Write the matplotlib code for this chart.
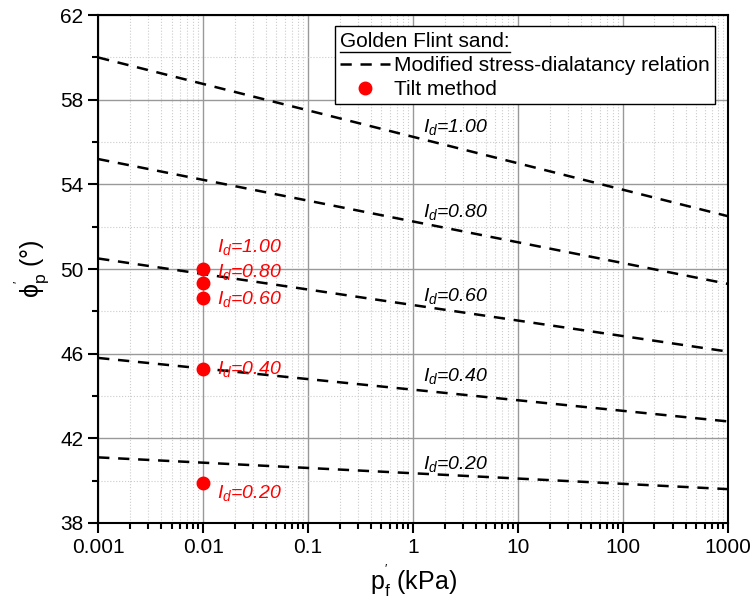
import numpy as np
import matplotlib.pyplot as plt
from matplotlib.lines import Line2D

plt.rcParams['font.family'] = ['Liberation Sans', 'DejaVu Sans']
plt.rcParams['mathtext.fontset'] = 'custom'
plt.rcParams['mathtext.rm'] = 'Liberation Sans'
plt.rcParams['mathtext.it'] = 'Liberation Sans:italic'

# relative density levels
id_labels = ["1.00", "0.80", "0.60", "0.40", "0.20"]

# modified stress-dilatancy relation, end points (p'f = 0.001 and 1000 kPa)
p_line = [0.001, 1000]
phi_line = [[60.0, 52.5],
            [55.2, 49.3],
            [50.5, 46.1],
            [45.8, 42.8],
            [41.1, 39.6]]

# tilt method
p_tilt = [0.01, 0.01, 0.01, 0.01, 0.01]
phi_tilt = [50.0, 49.35, 48.65, 45.3, 39.9]

# label positions
line_lab_x = 1.25
line_lab_y = [56.7, 52.7, 48.75, 44.95, 40.8]
tilt_lab_x = 0.0135
tilt_lab_y = [51.05, 49.85, 48.6, 45.3, 39.4]

fig = plt.figure(figsize=(7.55, 6.06), dpi=100)
ax = fig.add_axes([0.13, 0.137, 0.834, 0.838])

for i, ph in enumerate(phi_line):
    ax.plot(p_line, ph, color='black', ls=(0, (4.5, 3.5)), lw=1.8,
            label='Modified stress-dialatancy relation' if i == 0 else None)
    ax.text(line_lab_x, line_lab_y[i], r"$I_d$=" + id_labels[i],
            fontsize=14, style='italic', va='center', ha='left')

ax.plot(p_tilt, phi_tilt, 'o', color='red', ms=9, label='Tilt method',
        zorder=5, clip_on=False)
for i in range(len(id_labels)):
    ax.text(tilt_lab_x, tilt_lab_y[i], r"$I_d$=" + id_labels[i],
            fontsize=14, style='italic', color='red', va='center', ha='left')

ax.set_xscale('log')
ax.set_xlim(0.001, 1000)
ax.set_ylim(38, 62)
ax.set_yticks(np.arange(38, 63, 4))
ax.set_yticks(np.arange(40, 62, 4), minor=True)
ax.set_xticks([0.001, 0.01, 0.1, 1, 10, 100, 1000])
ax.set_xticklabels(['0.001', '0.01', '0.1', '1', '10', '100', '1000'])

ax.grid(True, which='major', color='#999999', lw=1.0)
ax.grid(True, which='minor', color='#cccccc', lw=0.8, ls=':')
ax.set_axisbelow(True)

for s in ax.spines.values():
    s.set_linewidth(1.5)
ax.tick_params(which='major', direction='out', length=7, width=1.5, labelsize=15)
ax.tick_params(which='minor', direction='out', length=4, width=1.5)

ax.set_xlabel(r"p$^{'}_{\mathrm{f}}$ (kPa)", fontsize=18, labelpad=4)
ax.set_ylabel(r"$\mathrm{\phi}^{'}_{\mathrm{p}}$ (°)", fontsize=18, labelpad=6)

leg = ax.legend(loc='upper right', bbox_to_anchor=(0.99, 0.99), title='Golden Flint sand:',
                fontsize=15, title_fontsize=15, frameon=True, fancybox=False,
                edgecolor='black', framealpha=1, handlelength=2.4,
                handletextpad=0.2, borderpad=0.25, labelspacing=0.25,
                borderaxespad=0.3, alignment='left')
leg.get_frame().set_linewidth(1.0)

# underline legend title
fig.canvas.draw()
bb = leg.get_title().get_window_extent().transformed(fig.transFigure.inverted())
fig.add_artist(Line2D([bb.x0, bb.x1], [bb.y0 - 0.002, bb.y0 - 0.002],
                      transform=fig.transFigure, color='black', lw=1.0))

fig.savefig('out.png', dpi=100)
